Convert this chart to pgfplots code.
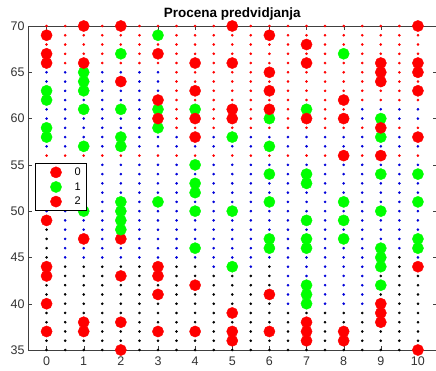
\documentclass[border=0pt]{standalone}
\usepackage{fontspec}
\setmainfont{Liberation Sans}
\usepackage{pgfplots}
\usepackage{pgfplotstable}
\pgfplotsset{compat=1.18}

% background grid: predicted class at x = 0,0.5,...,10 (columns c0..c20), y = 35..70
\pgfplotstableread{
y c0 c1 c2 c3 c4 c5 c6 c7 c8 c9 c10 c11 c12 c13 c14 c15 c16 c17 c18 c19 c20
70 r r r r r r r r r r r r r r r r r r r r r
69 r r r r r r r r r r r r r r r r r r r r r
68 r r r r r r r r r r r r r r r r r r r r r
67 r r r r r r r r r r r r r r r r r r r r r
66 r r r r r r r r r r r r r r r r r r r r r
65 b b b b b b b r r r r r r r r r r r r r r
64 b b b b b b b r r r r r r r r r r r r r r
63 b b b b b b b r r r r r r r r r r r r r r
62 b b b b b b b r r r r r r r r r r r r r r
61 b b b b b b b r r r r r r r r r r b b b b
60 b b b b b b b r r r r r r r r r r b b b b
59 b b b b b b b r r r r r r r r r r r r r r
58 b b b b b b b b b b b b b b b b b b b b b
57 b b b b b b b b b b b b b b b b b b b b b
56 r r r r r r r r r r r r r r r r r r r r r
55 b b b b b b b b b b b b b b b b b b b b b
54 b b b b b b b b b b b b b b b b b b b b b
53 b b b b b b b b b b b b b b b b b b b b b
52 b b b b b b b b b b b b b b b b b b b b b
51 b b b b b b b b b b b b b b b b b b b b b
50 b b b b b b b b b b b b b b b b b b b b b
49 k b b b b b b b b b b b b b b b b b b b b
48 k b b b b b b b b b b b b b b b b b b b b
47 k b b b b b b b b b b b b b b b b b b b b
46 k b b b b b b b b b b b b b b b b b b b b
45 k b b b b b b b b b b b b b b b b b b k b
44 k k k k k k k k k b k b k b b b b b k k k
43 k k k k k k k k k k k k k b b b b b k k k
42 k k k k k k k k k k k k k b b b b b k k k
41 k k k k k k k k k k k k k b b b b b k k k
40 k k k k k k k k k k k k k b b b b b k k k
39 k k k k k k k k k k k k k k k k k k k k k
38 k k k k k k k k k k k k k k k k k k k k k
37 k k k k k k k k k k k k k k k k k k k k k
36 k k k k k k k k k k k k k k k k k k k k k
35 k k k k k k k k k k k k k k k k k k k k k
}\gridtable

\begin{document}
\begin{tikzpicture}
\begin{axis}[
  at={(0,0)}, anchor=south west,
  scale only axis, width=408.5pt, height=324pt,
  xmin=-0.5, xmax=10.5, ymin=35, ymax=70,
  xtick={0,1,2,3,4,5,6,7,8,9,10}, ytick={35,40,45,50,55,60,65,70},
  tick align=inside, major tick length=4pt,
  axis line style={black!75}, tick style={black!75},
  tick label style={font=\fontsize{12.5}{14}\selectfont, text=black!80},
  xticklabel style={yshift=-3pt},
  /pgf/number format/assume math mode=true,
  title={Procena predvidjanja},
  title style={font=\fontsize{13.5}{15}\selectfont\bfseries, yshift=-3.5pt},
  clip=false,
  legend style={at={(0.017,0.577)}, anchor=north west, draw=black,
    font=\fontsize{11}{13}\selectfont, row sep=1.5pt, inner xsep=3pt, inner ysep=2.5pt},
  legend cell align=left,
  legend image code/.code={\path (0cm,0cm) (1.2cm,0cm);
    \draw[#1] plot coordinates {(0.62cm,0cm)};},
]
\pgfplotsinvokeforeach{0,...,20}{
  \addplot[scatter, only marks, mark size=1.1pt, forget plot,
    scatter src=explicit symbolic,
    scatter/classes={k={mark=*,black}, b={mark=*,blue!85!black}, r={mark=*,red}}]
    table[x expr=#1*0.5, y=y, meta=c#1] {\gridtable};
}
% class 0 (red)
\addplot[only marks, mark=*, mark size=5.6pt, color=red] coordinates {
(0,49)(0,44)(0,43)(0,40)(0,37)(1,47)(1,38)(1,37)(2,47)(2,43)(2,38)(2,35)
(3,44)(3,43)(3,41)(3,37)(4,42)(4,37)(5,39)(5,37)(5,36)(6,41)(6,37)
(7,38)(7,37)(7,36)(8,37)(8,36)(9,40)(9,39)(9,38)(10,44)(10,35)
};
\addlegendentry{0}
% class 1 (green)
\addplot[only marks, mark=*, mark size=5.6pt, color=green] coordinates {
(0,63)(0,62)(0,59)(0,58)
(1,65)(1,64)(1,63)(1,61)(1,57)(1,50)
(2,67)(2,61)(2,58)(2,57)(2,51)(2,50)(2,49)(2,48)
(3,69)(3,61)(3,59)(3,51)
(4,61)(4,55)(4,53)(4,52)(4,50)(4,46)
(5,58)(5,50)(5,44)
(6,60)(6,57)(6,54)(6,51)(6,47)(6,46)
(7,61)(7,54)(7,53)(7,49)(7,47)(7,46)(7,42)(7,41)(7,40)
(8,67)(8,51)(8,49)(8,47)
(9,60)(9,58)(9,54)(9,50)(9,46)(9,45)(9,44)(9,42)
(10,54)(10,51)(10,47)(10,46)
};
\addlegendentry{1}
% class 2 (red)
\addplot[only marks, mark=*, mark size=5.6pt, color=red] coordinates {
(0,69)(0,67)(0,66)(1,70)(1,66)(2,70)(2,64)(3,67)(3,62)(3,60)
(4,66)(4,63)(4,60)(4,58)(5,70)(5,66)(5,61)(5,60)
(6,69)(6,65)(6,63)(6,61)(7,68)(7,66)(7,60)(8,62)(8,60)(8,56)
(9,66)(9,65)(9,64)(9,59)(9,56)(10,70)(10,66)(10,65)(10,63)(10,58)
};
\addlegendentry{2}
\end{axis}
\pgfresetboundingbox
\useasboundingbox (-28pt,-20pt) rectangle (408pt,350pt);
\end{tikzpicture}
\end{document}
